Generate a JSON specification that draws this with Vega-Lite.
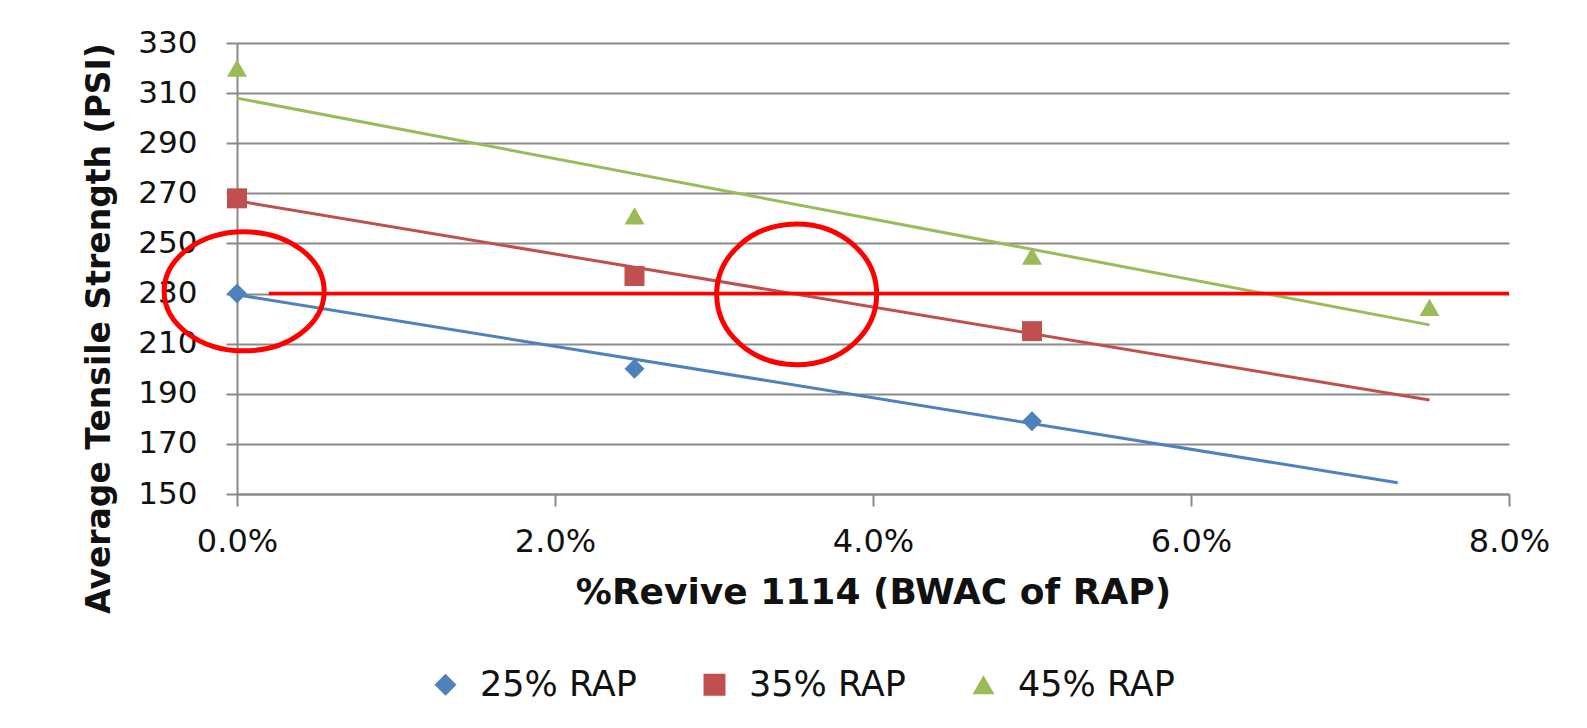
{
  "$schema": "https://vega.github.io/schema/vega-lite/v6.json",
  "autosize": {"type": "none"},
  "width": 1272,
  "height": 451,
  "padding": {"left": 237, "top": 43, "right": 78, "bottom": 234},
  "background": "white",
  "config": {"view": {"stroke": null}, "font": "DejaVu Sans"},
  "datasets": {
    "points": [
      {"series": "25% RAP", "x": 0.0, "y": 230},
      {"series": "25% RAP", "x": 0.025, "y": 200},
      {"series": "25% RAP", "x": 0.05, "y": 179},
      {"series": "35% RAP", "x": 0.0, "y": 268},
      {"series": "35% RAP", "x": 0.025, "y": 237},
      {"series": "35% RAP", "x": 0.05, "y": 215},
      {"series": "45% RAP", "x": 0.0, "y": 320},
      {"series": "45% RAP", "x": 0.025, "y": 261},
      {"series": "45% RAP", "x": 0.05, "y": 245},
      {"series": "45% RAP", "x": 0.075, "y": 224.5}
    ],
    "trends": [
      {"series": "25% RAP", "x": 0.0, "y": 229.5},
      {"series": "25% RAP", "x": 0.073, "y": 154.5},
      {"series": "35% RAP", "x": 0.0, "y": 267},
      {"series": "35% RAP", "x": 0.075, "y": 187.5},
      {"series": "45% RAP", "x": 0.0, "y": 308},
      {"series": "45% RAP", "x": 0.075, "y": 217.5}
    ],
    "target": [
      {"x": 0.002, "y": 230},
      {"x": 0.08, "y": 230}
    ]
  },
  "encoding": {
    "x": {
      "field": "x", "type": "quantitative",
      "scale": {"domain": [0, 0.08], "nice": false, "zero": false},
      "axis": {
        "values": [0, 0.02, 0.04, 0.06, 0.08],
        "format": ".1%",
        "grid": false,
        "labelFlush": false,
        "domainColor": "#8a8a8a", "domainWidth": 2,
        "tickColor": "#8a8a8a", "tickWidth": 2, "tickSize": 12,
        "labelPadding": 20, "labelFontSize": 32, "labelColor": "#111111",
        "labelFont": "DejaVu Sans",
        "title": "%Revive 1114 (BWAC of RAP)",
        "titleFont": "DejaVu Sans", "titleFontSize": 36, "titleFontWeight": "bold",
        "titleColor": "#111111",
        "titleY": 98, "titleBaseline": "middle"
      }
    },
    "y": {
      "field": "y", "type": "quantitative",
      "scale": {"domain": [150, 330], "nice": false, "zero": false},
      "axis": {
        "values": [150, 170, 190, 210, 230, 250, 270, 290, 310, 330],
        "grid": true, "gridColor": "#8a8a8a", "gridWidth": 2,
        "domainColor": "#8a8a8a", "domainWidth": 2,
        "tickColor": "#8a8a8a", "tickWidth": 2, "tickSize": 11,
        "labelPadding": 29, "labelFontSize": 31, "labelColor": "#111111",
        "labelFont": "DejaVu Sans",
        "title": "Average Tensile Strength (PSI)",
        "titleFont": "DejaVu Sans", "titleFontSize": 33, "titleFontWeight": "bold",
        "titleColor": "#111111",
        "titleAngle": -90, "titleAlign": "center", "titleBaseline": "middle",
        "titleX": -138, "titleY": 285
      }
    }
  },
  "layer": [
    {
      "data": {"name": "trends"},
      "transform": [{"filter": "datum.series === '25% RAP'"}],
      "mark": {"type": "line", "strokeWidth": 3, "color": "#4F81BD"},
      "encoding": {}
    },
    {
      "data": {"name": "trends"},
      "transform": [{"filter": "datum.series === '35% RAP'"}],
      "mark": {"type": "line", "strokeWidth": 3, "color": "#C0504D"},
      "encoding": {}
    },
    {
      "data": {"name": "trends"},
      "transform": [{"filter": "datum.series === '45% RAP'"}],
      "mark": {"type": "line", "strokeWidth": 3, "color": "#9BBB59"},
      "encoding": {}
    },
    {
      "data": {"name": "points"},
      "mark": {"type": "point", "filled": true, "opacity": 1, "size": 400, "strokeWidth": 0},
      "encoding": {
        "color": {
          "field": "series", "type": "nominal",
          "scale": {"domain": ["25% RAP", "35% RAP", "45% RAP"], "range": ["#4F81BD", "#C0504D", "#9BBB59"]},
          "legend": {
            "orient": "none", "legendX": 191, "legendY": 624, "direction": "horizontal",
            "title": null, "labelFontSize": 35, "labelFont": "DejaVu Sans", "labelColor": "#111111",
            "symbolSize": 484, "columnPadding": 60, "labelOffset": 17
          }
        },
        "shape": {
          "field": "series", "type": "nominal",
          "scale": {"domain": ["25% RAP", "35% RAP", "45% RAP"], "range": ["diamond", "square", "triangle-up"]}
        }
      }
    },
    {
      "data": {"name": "target"},
      "mark": {"type": "line", "color": "#FF0000", "strokeWidth": 3.5},
      "encoding": {}
    },
    {
      "data": {"values": [{"x": 0.00045, "y": 230.9}]},
      "mark": {
        "type": "point", "filled": false, "color": "#FF0000", "strokeWidth": 5, "opacity": 1,
        "size": 25600,
        "shape": "M-1,0 C-1,-0.4107 -0.5523,-0.744 0,-0.744 C0.5523,-0.744 1,-0.4107 1,0 C1,0.4107 0.5523,0.744 0,0.744 C-0.5523,0.744 -1,0.4107 -1,0 Z"
      },
      "encoding": {}
    },
    {
      "data": {"values": [{"x": 0.0352, "y": 229.7}]},
      "mark": {
        "type": "point", "filled": false, "color": "#FF0000", "strokeWidth": 5, "opacity": 1,
        "size": 25600,
        "shape": "M-1,0 C-1,-0.4860 -0.5523,-0.88 0,-0.88 C0.5523,-0.88 1,-0.4860 1,0 C1,0.4860 0.5523,0.88 0,0.88 C-0.5523,0.88 -1,0.4860 -1,0 Z"
      },
      "encoding": {}
    }
  ]
}
